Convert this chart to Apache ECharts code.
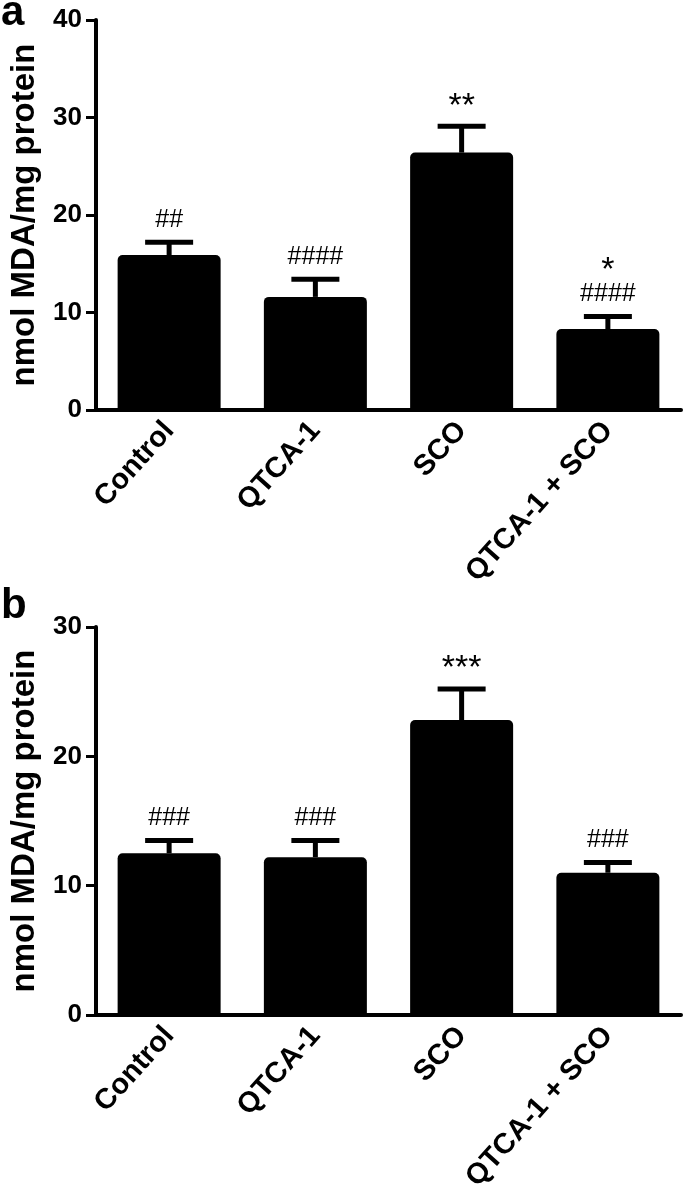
<!DOCTYPE html>
<html>
<head>
<meta charset="utf-8">
<script src="https://cdn.jsdelivr.net/npm/echarts@6/dist/echarts.min.js"></script>
<style>
html,body{margin:0;padding:0;background:#fff;}
#chart{width:685px;height:1196px;}
</style>
</head>
<body>
<div id="chart"></div>
<script>
const categories = ['Control', 'QTCA-1', 'SCO', 'QTCA-1 + SCO'];
const meanA = [15.9, 11.6, 26.4, 8.3];
const errA = [1.3, 1.8, 2.7, 1.3];
const sigA = ['##', '####', '**', '*\n####'];
const meanB = [12.5, 12.2, 22.8, 11.0];
const errB = [1.0, 1.3, 2.4, 0.8];
const sigB = ['###', '###', '***', '###'];
const ticksA = [0, 10, 20, 30, 40];
const ticksB = [0, 10, 20, 30];
const yTitle = 'nmol MDA/mg protein';

const FONT = "'Liberation Sans', Arial, sans-serif";

function errData(means, errs) {
  return means.map((m, i) => [i, m, m + errs[i]]);
}

function richSig(s) {
  return s.split('\n').map(line => /^\*+$/.test(line) ? '{st|' + line + '}' : '{h|' + line + '}').join('\n');
}

function makeRender(sigs) {
  return function (params, api) {
    const i = api.value(0);
    const base = api.coord([i, api.value(1)]);
    const top = api.coord([i, api.value(2)]);
    const capHalf = 24;
    return {
      type: 'group',
      children: [
        { type: 'line', shape: { x1: top[0], y1: base[1], x2: top[0], y2: top[1] }, style: { stroke: '#000', lineWidth: 5 } },
        { type: 'line', shape: { x1: top[0] - capHalf, y1: top[1], x2: top[0] + capHalf, y2: top[1] }, style: { stroke: '#000', lineWidth: 5 } },
        { type: 'text', x: top[0], y: top[1] - 9,
          style: { text: richSig(sigs[params.dataIndex]), align: 'center', verticalAlign: 'bottom',
                   fontFamily: FONT, fontSize: 25, fill: '#000',
                   rich: {
                     h: { fontFamily: FONT, fontSize: 25, lineHeight: 26, fill: '#000' },
                     st: { fontFamily: FONT, fontSize: 34, lineHeight: 22, fill: '#000' }
                   } } }
      ]
    };
  };
}

function xAxis(idx) {
  return {
    type: 'category', gridIndex: idx, data: categories,
    axisLine: { lineStyle: { color: '#000', width: 4 } },
    axisTick: { alignWithLabel: true, length: 10, lineStyle: { color: '#000', width: 3 } },
    axisLabel: { interval: 0, rotate: 48, margin: 16, color: '#000', fontFamily: FONT, fontWeight: 'bold', fontSize: 29 }
  };
}
function yAxis(idx, ticks) {
  return {
    type: 'value', gridIndex: idx, min: ticks[0], max: ticks[ticks.length - 1], interval: ticks[1] - ticks[0],
    name: yTitle, nameLocation: 'middle', nameGap: 55,
    nameTextStyle: { color: '#000', fontFamily: FONT, fontWeight: 'bold', fontSize: 33 },
    splitLine: { show: false },
    axisLine: { show: true, lineStyle: { color: '#000', width: 4 } },
    axisTick: { show: true, length: 10, lineStyle: { color: '#000', width: 3 } },
    axisLabel: { margin: 14, color: '#000', fontFamily: FONT, fontWeight: 'bold', fontSize: 26 }
  };
}

const chart = echarts.init(document.getElementById('chart'), null, { renderer: 'canvas' });
chart.setOption({
  animation: false,
  backgroundColor: '#fff',
  grid: [
    { left: 92, right: 4, top: 20, height: 390 },
    { left: 92, right: 4, top: 627, height: 388 }
  ],
  xAxis: [xAxis(0), xAxis(1)],
  yAxis: [yAxis(0, ticksA), yAxis(1, ticksB)],
  graphic: [
    { type: 'text', left: 1, top: -8, style: { text: 'a', fontFamily: FONT, fontWeight: 'bold', fontSize: 42, fill: '#000' } },
    { type: 'text', left: 1, top: 585, style: { text: 'b', fontFamily: FONT, fontWeight: 'bold', fontSize: 42, fill: '#000' } }
  ],
  series: [
    { type: 'bar', xAxisIndex: 0, yAxisIndex: 0, data: meanA, barWidth: 103,
      itemStyle: { color: '#000', borderRadius: [5, 5, 0, 0] } },
    { type: 'custom', xAxisIndex: 0, yAxisIndex: 0, data: errData(meanA, errA),
      renderItem: makeRender(sigA), z: 3 },
    { type: 'bar', xAxisIndex: 1, yAxisIndex: 1, data: meanB, barWidth: 103,
      itemStyle: { color: '#000', borderRadius: [5, 5, 0, 0] } },
    { type: 'custom', xAxisIndex: 1, yAxisIndex: 1, data: errData(meanB, errB),
      renderItem: makeRender(sigB), z: 3 }
  ]
});
</script>
</body>
</html>
